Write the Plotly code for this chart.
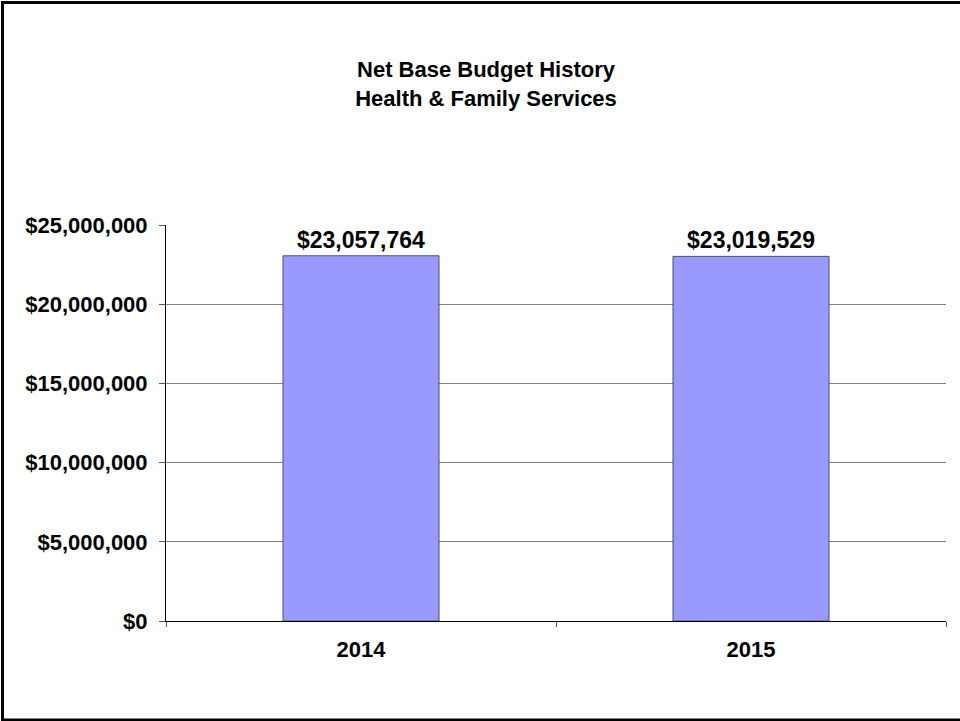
import plotly.graph_objects as go

years = ["2014", "2015"]
budgets = [23057764, 23019529]
y_ticks = [0, 5000000, 10000000, 15000000, 20000000, 25000000]
y_tick_labels = ["$0", "$5,000,000", "$10,000,000", "$15,000,000", "$20,000,000", "$25,000,000"]

FONT = "Liberation Sans, Arial, sans-serif"

fig = go.Figure(
    go.Bar(
        x=years,
        y=budgets,
        width=0.4,
        marker=dict(color="#9999FF", line=dict(color="#4d4d70", width=1)),
        text=[f"${v:,.0f}" for v in budgets],
        textposition="outside",
        textfont=dict(family=FONT, size=23, color="black", weight="bold"),
        cliponaxis=False,
        hoverinfo="skip",
    )
)

# plot-area geometry in pixels (used to place the frame lines)
L, R, T, B = 166, 946, 225, 621
W, H = R - L, B - T


def px(xp):
    return (xp - L) / W


def py(yp):
    return (B - yp) / H


frame = dict(color="black", width=3)
shapes = [
    dict(type="line", xref="paper", yref="paper", x0=px(2.5), x1=px(2.5), y0=py(2.5), y1=py(720), line=frame),
    dict(type="line", xref="paper", yref="paper", x0=px(1), x1=px(960), y0=py(2.5), y1=py(2.5), line=frame),
    dict(type="line", xref="paper", yref="paper", x0=px(1), x1=px(960), y0=py(720), y1=py(720), line=frame),
]

fig.update_layout(
    width=960,
    height=721,
    margin=dict(l=L, r=960 - R, t=T, b=721 - B, pad=0),
    paper_bgcolor="white",
    plot_bgcolor="white",
    showlegend=False,
    title=dict(
        text="Net Base Budget History<br>Health & Family Services",
        xref="container",
        x=486 / 960,
        xanchor="center",
        yref="container",
        y=1 - 77 / 721,
        yanchor="middle",
        font=dict(family=FONT, size=22, color="black", weight="bold"),
    ),
    font=dict(family=FONT, color="black"),
    shapes=shapes,
)

fig.update_xaxes(
    type="category",
    showline=True,
    linecolor="black",
    linewidth=1,
    ticks="outside",
    tickson="boundaries",
    ticklen=5,
    tickcolor="#555555",
    tickfont=dict(family=FONT, size=22, color="black", weight="bold"),
    ticklabelstandoff=9,
    showgrid=False,
)

fig.update_yaxes(
    range=[0, 25000000],
    tickvals=y_ticks,
    ticktext=y_tick_labels,
    showline=True,
    linecolor="black",
    linewidth=1,
    ticks="outside",
    ticklen=6,
    tickcolor="#555555",
    tickfont=dict(family=FONT, size=22, color="black", weight="bold"),
    ticklabelstandoff=7,
    showgrid=True,
    gridcolor="#808080",
    gridwidth=1,
    zeroline=False,
)

fig.write_html("out.html")
